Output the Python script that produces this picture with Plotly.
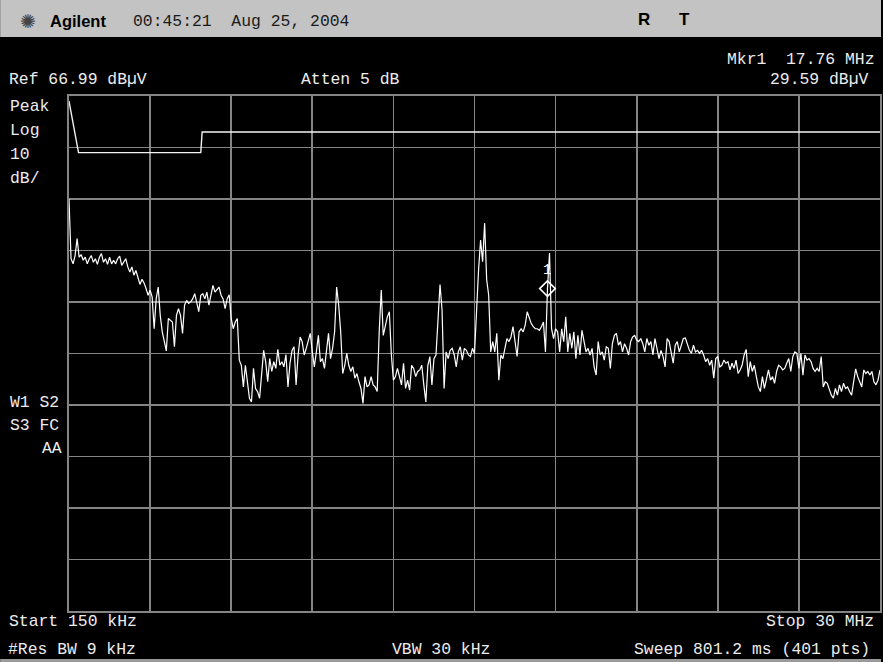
import numpy as np
import plotly.graph_objects as go

# ---- analyzer settings -------------------------------------------------
START_MHZ = 0.15
STOP_MHZ = 30.0
REF_LEVEL = 66.99          # dBµV at top graticule line
DB_PER_DIV = 10
N_DIV = 10
N_POINTS = 401

# ---- sweep trace (dBµV), 401 points split into four runs ---------------
trace_a = [47.0, 35.4, 34.4, 36.0, 39.3, 35.7, 36.2, 35.1, 35.7, 34.4,
           35.4, 36.0, 34.7, 35.4, 34.3, 35.7, 36.4, 34.7, 35.4, 34.3,
           35.7, 34.4, 35.1, 34.4, 35.4, 35.9, 34.1, 34.7, 35.4, 33.8,
           32.8, 33.8, 32.2, 33.1, 31.5, 30.4, 31.4, 30.7, 29.6, 28.3,
           29.3, 28.0, 21.8, 27.6, 29.9, 24.4, 21.2, 19.3, 17.5, 23.8,
           23.5, 23.1, 18.3, 24.4, 25.7, 24.4, 20.9, 26.4, 27.3, 26.7,
           27.0, 27.6, 28.6, 27.0, 25.1, 28.3, 28.6, 27.6, 28.9, 26.4,
           28.6, 30.2, 28.9, 29.3, 29.9, 28.3, 27.6, 25.7, 27.6, 28.4,
           23.8, 21.8, 23.1, 23.8, 15.7, 14.7, 10.5, 14.7, 10.9, 8.3,
           7.6, 14.1, 10.2, 9.6, 8.3, 12.8, 17.6, 15.4, 11.5, 16.0,
           13.5, 15.4]

trace_b = [14.1, 17.8, 14.7, 15.4, 14.4, 16.8, 10.5, 15.1, 17.6, 18.3,
           10.9, 16.7, 20.2, 19.3, 16.7, 18.0, 19.3, 20.9, 17.3, 14.4,
           17.3, 20.5, 15.4, 16.0, 14.1, 17.3, 20.9, 16.0, 18.0, 21.2,
           29.9, 26.4, 21.2, 13.1, 14.7, 17.0, 14.7, 13.5, 14.4, 12.2,
           13.1, 11.5, 10.2, 7.3, 12.5, 10.5, 10.9, 12.5, 10.9, 10.5,
           9.6, 21.2, 29.3, 20.5, 22.5, 24.1, 25.1, 16.7, 11.8, 12.5,
           14.1, 12.2, 10.9, 15.1, 10.2, 11.8, 9.9, 14.7, 14.1, 12.5,
           13.5, 13.8, 14.7, 10.9, 7.6, 14.7, 16.4, 10.9, 16.0, 16.7,
           23.5, 30.4, 25.4, 10.2, 17.3, 16.0, 17.6, 18.0, 16.7, 14.4,
           17.3, 18.3, 15.7, 18.0, 17.6, 16.7, 16.4, 18.0]

trace_c = [17.0, 25.4, 33.2, 39.0, 34.8, 42.3, 31.3, 28.3, 17.3, 19.3,
           17.3, 20.9, 11.8, 16.7, 16.0, 18.0, 19.9, 19.3, 20.2, 22.2,
           19.3, 16.4, 21.2, 21.8, 21.2, 22.5, 25.1, 23.8, 22.8, 22.2,
           21.8, 21.8, 21.5, 22.2, 23.1, 17.3, 29.59, 36.5, 21.8, 19.9,
           21.8, 21.2, 17.3, 21.8, 19.3, 24.1, 17.3, 20.9, 18.0, 21.2,
           16.0, 20.5, 16.7, 21.5, 19.3, 17.3, 18.0, 16.7, 18.0, 14.4,
           12.8, 19.3, 16.7, 17.3, 15.7, 18.3, 18.0, 14.1, 18.9, 20.5,
           20.9, 18.6, 19.3, 17.3, 18.9, 18.0, 16.7, 19.3, 20.2, 20.5,
           19.6, 19.3, 19.9, 18.9, 17.3, 19.9, 18.6, 19.3, 16.7, 19.9,
           18.0, 16.0, 17.6, 16.4, 14.4, 19.9, 19.3, 17.0, 15.1, 18.6,
           19.3]

trace_d = [17.3, 18.9, 19.9, 20.0, 18.9, 17.6, 17.0, 18.6, 17.3, 17.6,
           17.0, 17.6, 16.7, 15.4, 16.0, 14.7, 15.7, 12.2, 16.0, 16.4,
           14.4, 14.7, 15.7, 15.1, 15.4, 13.8, 15.1, 14.1, 15.7, 13.1,
           13.8, 14.7, 16.7, 17.8, 12.5, 15.4, 13.5, 14.7, 12.5, 10.5,
           9.6, 12.5, 10.2, 12.2, 13.8, 11.8, 12.5, 11.2, 13.5, 14.7,
           14.4, 13.8, 14.1, 15.1, 16.0, 13.5, 16.4, 17.3, 17.0, 14.1,
           17.0, 12.8, 16.7, 15.7, 16.0, 15.4, 14.1, 13.5, 14.1, 13.5,
           16.4, 10.5, 11.5, 11.2, 10.2, 8.9, 8.3, 10.2, 8.9, 10.9,
           9.6, 11.2, 10.2, 10.5, 9.6, 8.9, 11.5, 14.0, 12.5, 11.5,
           10.5, 13.8, 13.1, 13.5, 12.8, 13.5, 11.5, 10.9, 11.8, 13.8]

# ---- limit line (MHz, dBµV) --------------------------------------------
limit_freq = [0.15, 0.5, 5.0, 5.05, 30.0]
limit_level = [66, 56, 56, 60, 60]

# ---- marker 1 ----------------------------------------------------------
marker_freq = 17.76
marker_level = 29.59

trace_level = trace_a + trace_b + trace_c + trace_d
trace_freq = np.linspace(START_MHZ, STOP_MHZ, N_POINTS)

y_bottom = REF_LEVEL - DB_PER_DIV * N_DIV

# ---- page geometry (pixels) --------------------------------------------
W, H = 883, 662
PL, PR, PT, PB = 69, 882, 96, 611      # graticule box


def px(x):
    return (x - PL) / (PR - PL)


def py(y):
    return (PB - y) / (PB - PT)


MONO = "Liberation Mono"
FS = 16.4
TXT = "#ececec"
GRID = "#858585"
NB = "\u00a0"

fig = go.Figure()

fig.add_trace(go.Scatter(
    x=limit_freq, y=limit_level, mode="lines",
    line=dict(color="#f2f2f2", width=1.4), hoverinfo="skip", showlegend=False))

fig.add_trace(go.Scatter(
    x=trace_freq, y=trace_level, mode="lines",
    line=dict(color="#ffffff", width=1.2), hoverinfo="skip", showlegend=False))

fig.add_trace(go.Scatter(
    x=[marker_freq], y=[marker_level], mode="markers",
    marker=dict(symbol="diamond-open", size=12, color="#ffffff",
                line=dict(color="#ffffff", width=1.6)),
    hoverinfo="skip", showlegend=False))

shapes = [
    # title strip
    dict(type="rect", xref="paper", yref="paper",
         x0=px(0), x1=px(W), y0=py(37), y1=py(0),
         fillcolor="#c3c3c3", line=dict(width=0), layer="below"),
    # bottom edge strip
    dict(type="rect", xref="paper", yref="paper",
         x0=px(0), x1=px(W), y0=py(H), y1=py(659),
         fillcolor="#9a9a9a", line=dict(width=0), layer="below"),
]


def label(text, x, y, anchor="left", size=FS, color=TXT, family=MONO, **kw):
    return dict(text=text, x=px(x), y=py(y), xref="paper", yref="paper",
                xanchor=anchor, yanchor="middle", showarrow=False,
                font=dict(family=family, size=size, color=color), **kw)


annotations = [
    label("\u273a", 18, 21, size=19, color="#444444", family="DejaVu Sans"),
    label("<b>Agilent</b>", 48, 21, size=16.5, color="#000000",
          family="Liberation Sans"),
    label(f"00:45:21{NB}{NB}Aug 25, 2004", 131, 21, color="#1a1a1a"),
    label("<b>R</b>", 637, 20, size=17, color="#000000", family="Liberation Sans"),
    label("<b>T</b>", 679, 20, size=17, color="#000000", family="Liberation Sans"),

    label(f"Mkr1{NB}{NB}17.76 MHz", 879, 59, anchor="right"),
    label("29.59 dBµV", 873, 80, anchor="right"),
    label("Ref 66.99 dBµV", 7, 80),
    label("Atten 5 dB", 300, 80),

    label("Peak", 8, 106),
    label("Log", 8, 130),
    label("10", 8, 154),
    label("dB/", 8, 178),

    label(f"W1{NB}S2", 8, 402),
    label(f"S3{NB}FC", 8, 425),
    label("AA", 64, 448, anchor="right"),

    label("Start 150 kHz", 7, 621),
    label("#Res BW 9 kHz", 6, 649),
    label("VBW 30 kHz", 391, 649),
    label("Stop 30 MHz", 878, 621, anchor="right"),
    label("Sweep 801.2 ms (401 pts)", 874, 649, anchor="right"),

    # marker number above the marker diamond
    dict(text="1", x=marker_freq, y=marker_level, xref="x", yref="y",
         showarrow=False, yshift=19, xshift=0,
         font=dict(family=MONO, size=14, color="#ffffff")),
]

fig.update_layout(
    width=W, height=H,
    margin=dict(l=PL, r=W - PR, t=PT, b=H - PB, pad=0),
    paper_bgcolor="#000000", plot_bgcolor="#000000",
    shapes=shapes, annotations=annotations,
    showlegend=False,
)

fig.update_xaxes(
    range=[START_MHZ, STOP_MHZ], tick0=START_MHZ,
    dtick=(STOP_MHZ - START_MHZ) / N_DIV, tickmode="linear",
    showgrid=True, gridcolor=GRID, gridwidth=1.6,
    showticklabels=False, ticks="", zeroline=False,
    showline=True, linecolor=GRID, linewidth=1.6, mirror=True,
    fixedrange=True,
)
fig.update_yaxes(
    range=[y_bottom, REF_LEVEL], tick0=y_bottom, dtick=DB_PER_DIV,
    tickmode="linear",
    showgrid=True, gridcolor=GRID, gridwidth=1.6,
    showticklabels=False, ticks="", zeroline=False,
    showline=True, linecolor=GRID, linewidth=1.6, mirror=True,
    fixedrange=True,
)

fig.write_html("out.html", config={"displayModeBar": False, "staticPlot": True})
